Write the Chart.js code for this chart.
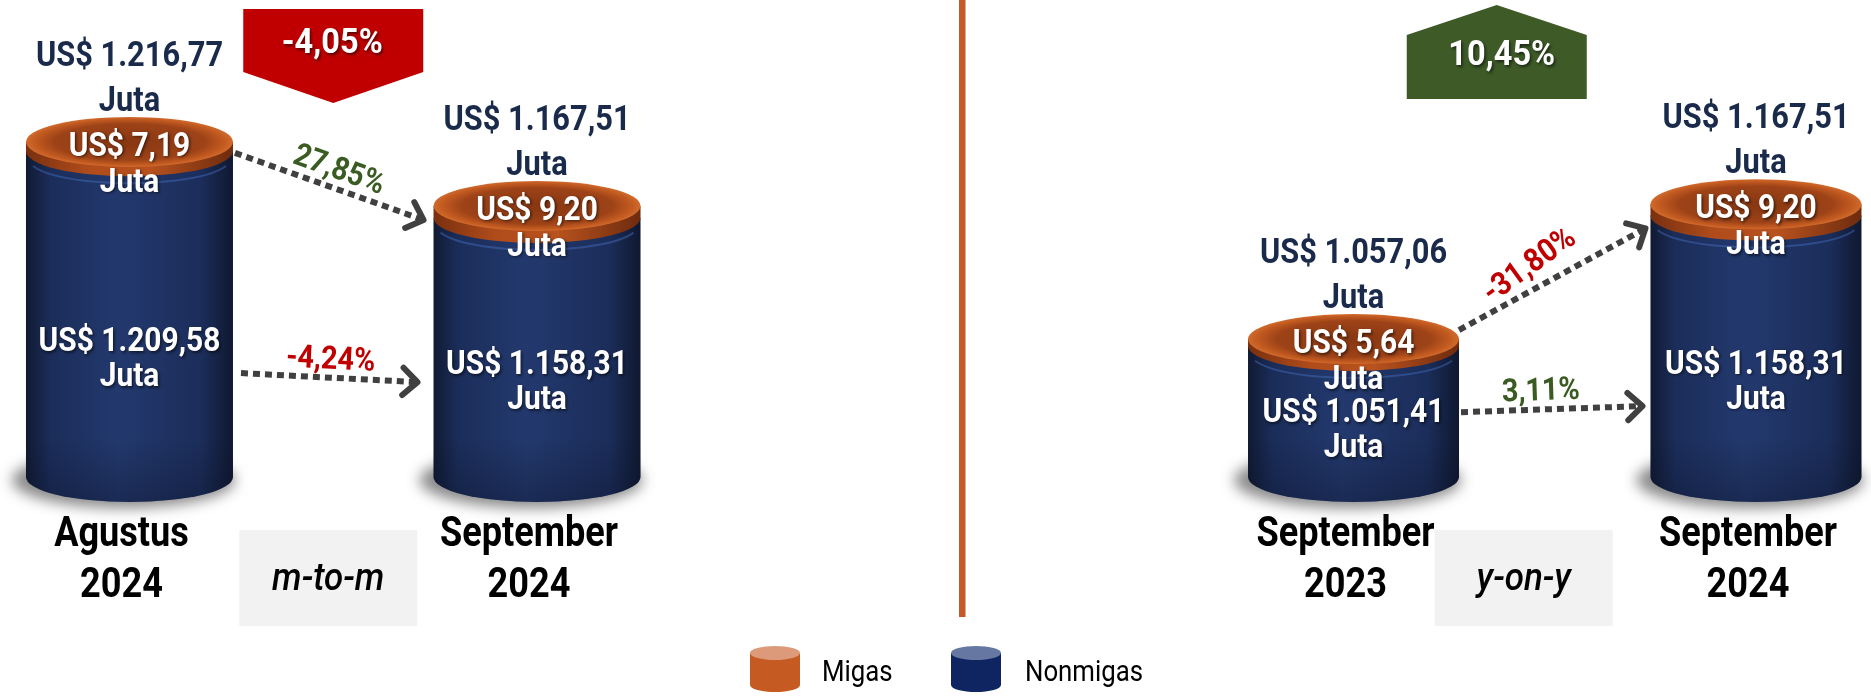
<!DOCTYPE html>
<html><head><meta charset="utf-8">
<script src="https://cdn.jsdelivr.net/npm/chart.js@4.4.1/dist/chart.umd.min.js"></script>
<style>
html,body{margin:0;padding:0;background:#fff;}
#wrap{position:relative;width:1871px;height:699px;overflow:hidden;background:#fff;}
canvas{position:absolute;left:0;top:0;}
</style></head><body>
<div id="wrap">
<canvas id="left" width="1871" height="699"></canvas>
<canvas id="right" width="1871" height="699"></canvas>
</div>
<script>
// ---------- DATA ----------
const seriesNames = ["Migas", "Nonmigas"];

const mtmCategories = [["Agustus", "2024"], "m-to-m", ["September", "2024"]];
const mtmMigas = [7.19, null, 9.20];
const mtmNonmigas = [1209.58, null, 1158.31];
const mtmTotal = [1216.77, null, 1167.51];
const mtmChangeTotal = -4.05;
const mtmChangeMigas = 27.85;
const mtmChangeNonmigas = -4.24;

const yoyCategories = [["September", "2023"], "y-on-y", ["September", "2024"]];
const yoyMigas = [5.64, null, 9.20];
const yoyNonmigas = [1051.41, null, 1158.31];
const yoyTotal = [1057.06, null, 1167.51];
const yoyChangeTotal = 10.45;
const yoyChangeMigas = -31.80;
const yoyChangeNonmigas = 3.11;

// ---------- HELPERS ----------
function fmt(v) {
  const s = Math.abs(v).toFixed(2);
  let [i, f] = s.split('.');
  i = i.replace(/\B(?=(\d{3})+(?!\d))/g, '.');
  return (v < 0 ? '-' : '') + i + ',' + f;
}
const FONT = 'Roboto, "Liberation Sans", Arial, sans-serif';
function txt(ctx, s, x, y, o) {
  ctx.save();
  ctx.translate(x, y);
  if (o.rot) ctx.rotate(o.rot);
  ctx.scale(o.sx || 0.9, 1);
  ctx.font = o.font;
  ctx.fillStyle = o.color;
  ctx.textAlign = o.align || 'center';
  ctx.textBaseline = 'alphabetic';
  if (o.shadow) {
    ctx.shadowColor = 'rgba(0,0,0,0.55)';
    ctx.shadowBlur = 3; ctx.shadowOffsetX = 1.5; ctx.shadowOffsetY = 1.5;
  }
  ctx.fillText(s, 0, 0);
  ctx.restore();
}
const NAVY_TXT = '#1a2a4a', RED = '#c00000', GREEN_TXT = '#3a5b22', GREEN_BOX = '#3d5a27';

function drawCylinder(ctx, b, ry) {
  const x = b.x, rx = b.w / 2;
  // shadow
  ctx.save();
  ctx.filter = 'blur(7px)';
  ctx.fillStyle = 'rgba(40,40,40,0.55)';
  ctx.beginPath();
  ctx.ellipse(x - 6, b.base + 3, rx + 8, ry + 3, 0, 0, Math.PI * 2);
  ctx.fill();
  ctx.restore();
  // body (nonmigas)
  const g = ctx.createLinearGradient(x - rx, 0, x + rx, 0);
  g.addColorStop(0, '#111a33');
  g.addColorStop(0.12, '#1b2d5a');
  g.addColorStop(0.45, '#23396e');
  g.addColorStop(0.85, '#1b2d5a');
  g.addColorStop(1, '#0f1830');
  ctx.fillStyle = g;
  ctx.beginPath();
  ctx.moveTo(x - rx, b.yN);
  ctx.lineTo(x - rx, b.base);
  ctx.ellipse(x, b.base, rx, ry, 0, Math.PI, 0, true);
  ctx.lineTo(x + rx, b.yN);
  ctx.closePath();
  ctx.fill();
  // lower shading
  const g2 = ctx.createLinearGradient(0, b.base - 40, 0, b.base + ry);
  g2.addColorStop(0, 'rgba(10,16,35,0)');
  g2.addColorStop(1, 'rgba(10,16,35,0.35)');
  ctx.fillStyle = g2;
  ctx.beginPath();
  ctx.moveTo(x - rx, b.base - 40);
  ctx.lineTo(x - rx, b.base);
  ctx.ellipse(x, b.base, rx, ry, 0, Math.PI, 0, true);
  ctx.lineTo(x + rx, b.base - 40);
  ctx.closePath();
  ctx.fill();
  // thin highlight under band
  ctx.strokeStyle = 'rgba(70,110,190,0.45)';
  ctx.lineWidth = 2;
  ctx.beginPath();
  ctx.ellipse(x, b.yN + 7, rx - 2, ry, 0, Math.PI * 0.1, Math.PI * 0.9);
  ctx.stroke();
  // band (migas)
  const g3 = ctx.createLinearGradient(x - rx, 0, x + rx, 0);
  g3.addColorStop(0, '#7a300f');
  g3.addColorStop(0.3, '#b04c1b');
  g3.addColorStop(0.6, '#b8521e');
  g3.addColorStop(1, '#6e2b0e');
  ctx.fillStyle = g3;
  ctx.beginPath();
  ctx.moveTo(x - rx, b.yM);
  ctx.lineTo(x - rx, b.yN);
  ctx.ellipse(x, b.yN, rx, ry, 0, Math.PI, 0, true);
  ctx.lineTo(x + rx, b.yM);
  ctx.closePath();
  ctx.fill();
  // top face
  ctx.save();
  ctx.translate(x, b.yM);
  ctx.scale(1, ry / rx);
  const rg = ctx.createRadialGradient(0, 0, rx * 0.1, 0, 0, rx);
  rg.addColorStop(0, '#8a3812');
  rg.addColorStop(0.7, '#9e4318');
  rg.addColorStop(0.9, '#c25a20');
  rg.addColorStop(1, '#d06a2c');
  ctx.fillStyle = rg;
  ctx.beginPath();
  ctx.arc(0, 0, rx, 0, Math.PI * 2);
  ctx.fill();
  ctx.restore();
}

function drawArrow(ctx, x1, y1, x2, y2) {
  ctx.save();
  const a = Math.atan2(y2 - y1, x2 - x1);
  ctx.strokeStyle = '#404040';
  ctx.lineWidth = 6;
  ctx.setLineDash([7, 5]);
  ctx.lineCap = 'butt';
  ctx.beginPath();
  ctx.moveTo(x1, y1);
  ctx.lineTo(x2 - 4 * Math.cos(a), y2 - 4 * Math.sin(a));
  ctx.stroke();
  ctx.setLineDash([]);
  const L = 20, sp = 0.75;
  ctx.lineCap = 'round'; ctx.lineJoin = 'round';
  ctx.beginPath();
  ctx.moveTo(x2 - L * Math.cos(a - sp), y2 - L * Math.sin(a - sp));
  ctx.lineTo(x2, y2);
  ctx.lineTo(x2 - L * Math.cos(a + sp), y2 - L * Math.sin(a + sp));
  ctx.stroke();
  ctx.restore();
}

function drawLegendIcon(ctx, x, y, w, h, body, top) {
  const rx = w / 2, ry = 7, cx = x + rx;
  ctx.fillStyle = body;
  ctx.beginPath();
  ctx.moveTo(x, y + ry);
  ctx.lineTo(x, y + h - ry);
  ctx.ellipse(cx, y + h - ry, rx, ry, 0, Math.PI, 0, true);
  ctx.lineTo(x + w, y + ry);
  ctx.closePath();
  ctx.fill();
  ctx.fillStyle = top;
  ctx.beginPath();
  ctx.ellipse(cx, y + ry, rx, ry, 0, 0, Math.PI * 2);
  ctx.fill();
}

const cylPlugin = {
  id: 'cyl',
  afterDatasetsDraw(chart, args, o) {
    const ctx = chart.ctx;
    const mN = chart.getDatasetMeta(0), mM = chart.getDatasetMeta(1);
    const xs = chart.scales.x, ys = chart.scales.y;
    const basePx = ys.getPixelForValue(ys.min);
    const ry = 25;
    const bars = [];
    chart.data.labels.forEach((lab, i) => {
      const vN = chart.data.datasets[0].data[i];
      if (vN == null) return;
      const eN = mN.data[i], eM = mM.data[i];
      bars[i] = { x: eN.x, w: eN.width, base: Math.min(eN.base, basePx), yN: eN.y, yM: eM.y };
    });
    if (o.divider) {
      ctx.fillStyle = '#c55a28';
      ctx.fillRect(959, 0, 6.5, 617);
    }
    bars.forEach(b => { if (b) drawCylinder(ctx, b, ry); });

    const F = (w, s) => w + ' ' + s + 'px ' + FONT;
    bars.forEach((b, i) => {
      if (!b) return;
      const mig = chart.data.datasets[1].data[i];
      const non = chart.data.datasets[0].data[i];
      const tot = o.totals[i];
      const et = b.yM - ry - 6;
      txt(ctx, 'US$ ' + fmt(tot), b.x, et - 45, { font: F('bold', 35), color: NAVY_TXT, sx: 0.88 });
      txt(ctx, 'Juta', b.x, et, { font: F('bold', 35), color: NAVY_TXT, sx: 0.88 });
      txt(ctx, 'US$ ' + fmt(mig), b.x, b.yM + 14, { font: F('bold', 34), color: '#fff', shadow: true, sx: 0.88 });
      txt(ctx, 'Juta', b.x, b.yM + 50, { font: F('bold', 34), color: '#fff', shadow: true, sx: 0.88 });
      const c = b.yM + 0.64 * (b.base - b.yM);
      txt(ctx, 'US$ ' + fmt(non), b.x, c - 5, { font: F('bold', 34), color: '#fff', shadow: true, sx: 0.88 });
      txt(ctx, 'Juta', b.x, c + 30, { font: F('bold', 34), color: '#fff', shadow: true, sx: 0.88 });
      const lines = chart.data.labels[i];
      txt(ctx, lines[0], b.x - 8, 546, { font: F('bold', 42), color: '#000', sx: 0.86 });
      txt(ctx, lines[1], b.x - 8, 597, { font: F('bold', 42), color: '#000', sx: 0.86 });
    });

    const mx = xs.getPixelForValue(1);
    const bx = mx + o.boxDx;
    ctx.fillStyle = '#f2f2f2';
    ctx.fillRect(bx - 89, 530, 178, 96);
    txt(ctx, chart.data.labels[1], bx, 590, { font: 'italic 500 38px ' + FONT, color: '#000', sx: 0.92 });

    const cx = mx + o.badgeDx, bw = 180, pos = o.changeTotal >= 0;
    ctx.fillStyle = pos ? GREEN_BOX : RED;
    ctx.beginPath();
    if (!pos) {
      ctx.moveTo(cx - bw / 2, 9); ctx.lineTo(cx + bw / 2, 9); ctx.lineTo(cx + bw / 2, 72);
      ctx.lineTo(cx, 103); ctx.lineTo(cx - bw / 2, 72);
    } else {
      ctx.moveTo(cx, 5); ctx.lineTo(cx + bw / 2, 35); ctx.lineTo(cx + bw / 2, 99);
      ctx.lineTo(cx - bw / 2, 99); ctx.lineTo(cx - bw / 2, 35);
    }
    ctx.closePath(); ctx.fill();
    txt(ctx, fmt(o.changeTotal) + '%', cx + (pos ? 5 : -1), pos ? 65 : 53, { font: F('bold', 35), color: '#fff', shadow: true, sx: 0.93 });

    const s = bars[0], t = bars[2];
    const pt = (b, a) => a.mode === 'top' ? b.yM + a.dy : b.yM + a.f * (b.base - b.yM);
    o.arrows.forEach(a => {
      const x1 = s.x + s.w / 2 + a.fromDx, y1 = pt(s, a.from);
      const x2 = t.x - t.w / 2 - a.toDx, y2 = pt(t, a.to);
      drawArrow(ctx, x1, y1, x2, y2);
      const ang = Math.atan2(y2 - y1, x2 - x1);
      const midx = (x1 + x2) / 2, midy = (y1 + y2) / 2;
      const nx = Math.sin(ang), ny = -Math.cos(ang);
      const v = a.value;
      txt(ctx, fmt(v) + '%', midx + nx * 20 + a.tdx, midy + ny * 20 + 11, {
        font: F('bold', 32), color: v >= 0 ? GREEN_TXT : RED, rot: ang * (a.rotK || 1), sx: 0.9 });
    });

    if (o.legend) {
      const ds = chart.data.datasets;
      drawLegendIcon(ctx, 750, 646, 50, 46, '#c55a22', '#dc9a7a');
      txt(ctx, ds[1].label, 822, 681, { font: F('normal', 30), color: '#000', align: 'left', sx: 0.86 });
      drawLegendIcon(ctx, 951, 646, 50, 46, '#0e2562', '#6678a1');
      txt(ctx, ds[0].label, 1025, 681, { font: F('normal', 30), color: '#000', align: 'left', sx: 0.86 });
    }
  }
};

function makePanel(id, cats, migas, nonmigas, totals, cfg) {
  return new Chart(document.getElementById(id), {
    type: 'bar',
    data: {
      labels: cats,
      datasets: [
        { label: seriesNames[1], data: nonmigas, backgroundColor: 'rgba(0,0,0,0)', stack: 's' },
        { label: seriesNames[0], data: migas, backgroundColor: 'rgba(0,0,0,0)', stack: 's' }
      ]
    },
    options: {
      responsive: false, animation: false, devicePixelRatio: 1,
      layout: { padding: cfg.padding },
      datasets: { bar: { barThickness: cfg.barW } },
      scales: {
        x: { display: false, stacked: true },
        y: { display: false, stacked: true, min: cfg.yMin, max: cfg.yMax }
      },
      plugins: {
        legend: { display: false }, tooltip: { enabled: false },
        cyl: Object.assign({ totals }, cfg)
      }
    },
    plugins: [cylPlugin]
  });
}

makePanel('left', mtmCategories, mtmMigas, mtmNonmigas, mtmTotal, {
  padding: { left: 27.6, right: 1232.1, top: 33.7, bottom: 222 },
  barW: 207, yMin: 959, yMax: 1300,
  boxDx: -5, badgeDx: 0, changeTotal: mtmChangeTotal,
  arrows: [
    { value: mtmChangeMigas, from: { mode: 'top', dy: 11 }, to: { mode: 'top', dy: 14 }, fromDx: 2, toDx: 10, tdx: 0 },
    { value: mtmChangeNonmigas, from: { mode: 'f', f: 0.69 }, to: { mode: 'f', f: 0.65 }, fromDx: 8, toDx: 16, tdx: 0 }
  ]
});
makePanel('right', yoyCategories, yoyMigas, yoyNonmigas, yoyTotal, {
  padding: { left: 1252.9, right: 14.4, top: 42.7, bottom: 222 },
  barW: 211, yMin: 944, yMax: 1300,
  boxDx: -31, badgeDx: -58, changeTotal: yoyChangeTotal, divider: true, legend: true,
  arrows: [
    { value: yoyChangeMigas, from: { mode: 'top', dy: -9 }, to: { mode: 'top', dy: 24 }, fromDx: 0, toDx: 5, tdx: -8, rotK: 1.25 },
    { value: yoyChangeNonmigas, from: { mode: 'f', f: 0.53 }, to: { mode: 'f', f: 0.74 }, fromDx: 2, toDx: 8, tdx: -10 }
  ]
});
</script>
</body></html>
